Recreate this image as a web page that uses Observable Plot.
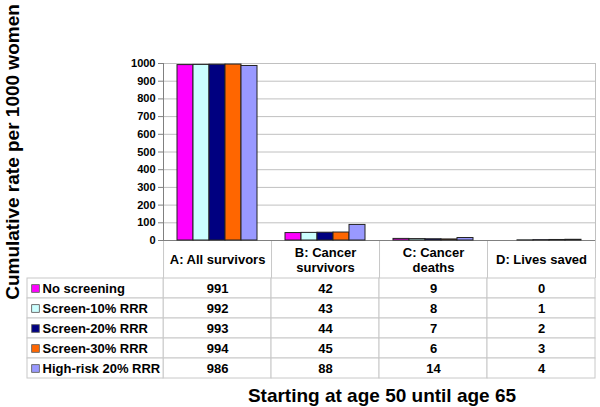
<!DOCTYPE html>
<html>
<head>
<meta charset="utf-8">
<script src="https://cdn.jsdelivr.net/npm/d3@7"></script>
<script src="https://cdn.jsdelivr.net/npm/@observablehq/plot@0.6"></script>
<style>
  html, body { margin: 0; padding: 0; background: #fff; }
  #chart { position: relative; width: 600px; height: 407px; background: #fff; font-family: "Liberation Sans", Arial, sans-serif; font-weight: bold; overflow: hidden; }
  #chart svg { position: absolute; left: 0; background: transparent; }
  .ytitle { position: absolute; left: -142px; top: 140px; width: 310px; height: 24px; line-height: 24px; font-size: 19px; text-align: center; transform: rotate(-90deg); transform-origin: 50% 50%; white-space: nowrap; }
  .xtitle { position: absolute; left: 82px; top: 385px; width: 600px; line-height: 22px; font-size: 19px; text-align: center; white-space: nowrap; }
</style>
</head>
<body>
<div id="chart"></div>
<script>
// ---- data ----
const categories = ["A: All survivors", "B: Cancer survivors", "C: Cancer deaths", "D: Lives saved"];
const headerLabels = ["A: All survivors", "B: Cancer\nsurvivors", "C: Cancer\ndeaths", "D: Lives saved"];
const series = ["No screening", "Screen-10% RRR", "Screen-20% RRR", "Screen-30% RRR", "High-risk 20% RRR"];
const seriesColors = ["#FF00FF", "#CCFFFF", "#000080", "#FF6600", "#9999FF"];
const allSurvivors = [991, 992, 993, 994, 986];
const cancerSurvivors = [42, 43, 44, 45, 88];
const cancerDeaths = [9, 8, 7, 6, 14];
const livesSaved = [0, 1, 2, 3, 4];
const yTicks = [0, 100, 200, 300, 400, 500, 600, 700, 800, 900, 1000];
const yTitle = "Cumulative rate per 1000 women";
const xTitle = "Starting at age 50 until age 65";

const valuesByCategory = [allSurvivors, cancerSurvivors, cancerDeaths, livesSaved];
const rows = [];
categories.forEach((c, ci) => series.forEach((s, si) => rows.push({category: c, series: s, value: valuesByCategory[ci][si], col: ci, row: si})));
const seriesRows = series.map((s, i) => ({series: s, row: i}));
const headerRows = categories.map((c, i) => ({category: c, label: headerLabels[i], col: i}));

const font = {fontFamily: "'Liberation Sans', Arial, sans-serif", fontWeight: "bold", background: "transparent", color: "black"};
const W = 600, ML = 163, MR = 5, MT = 63;
const gridColor = "#c0c0c0", axisColor = "#808080", tableColor = "#c8c8c8";

const chart = document.getElementById("chart");

// table (drawn first, underneath the axis layer)
const labelColStart = -1.26;
const table = Plot.plot({
  width: W, height: 141, marginLeft: 27, marginRight: MR, marginTop: 0, marginBottom: 3,
  style: {...font, fontSize: "13px"},
  x: {domain: [labelColStart, 4], axis: null},
  y: {domain: [-1.9, 5], reverse: true, axis: null},
  marks: [
    Plot.rect(rows, {x1: "col", x2: d => d.col + 1, y1: "row", y2: d => d.row + 1, fill: "white", stroke: tableColor}),
    Plot.rect(seriesRows, {x1: labelColStart, x2: 0, y1: "row", y2: d => d.row + 1, fill: "white", stroke: tableColor}),
    Plot.ruleX(d3.range(categories.length + 1), {y1: -1.9, y2: 0, stroke: tableColor}),
    Plot.text(headerRows, {x: d => d.col + 0.5, y: -0.95, text: "label", fontSize: 13, fontWeight: "bold", lineHeight: 1.15, fill: "black"}),
    Plot.text(rows, {x: d => d.col + 0.5, y: d => d.row + 0.5, text: d => String(d.value), fontSize: 13, fontWeight: "bold", fill: "black"}),
    Plot.dot(seriesRows, {x: labelColStart, y: d => d.row + 0.5, dx: 8, symbol: "square", r: 4.4, fill: d => seriesColors[d.row], stroke: "#707070", strokeWidth: 1}),
    Plot.text(seriesRows, {x: labelColStart, y: d => d.row + 0.5, dx: 15, text: "series", textAnchor: "start", fontSize: 13, fontWeight: "bold", fill: "black"})
  ]
});
table.style.top = "240px";
chart.appendChild(table);

// base: grid, frame, y axis
const base = Plot.plot({
  width: W, height: 252, marginLeft: ML, marginRight: MR, marginTop: MT, marginBottom: 12,
  style: {...font, fontSize: "11px"},
  x: {domain: [0, 1], axis: null},
  y: {domain: [0, 1000], axis: null},
  marks: [
    Plot.gridY(yTicks, {stroke: gridColor, strokeOpacity: 1}),
    Plot.frame({stroke: gridColor}),
    Plot.axisY(yTicks, {tickSize: 5, tickPadding: 3, stroke: axisColor, fill: "black", fontSize: 11, fontWeight: "bold", label: null, tickFormat: d => String(d)}),
    Plot.ruleX([0], {stroke: axisColor}),
    Plot.ruleY([0], {stroke: axisColor})
  ]
});
base.style.top = "0px";
chart.appendChild(base);

// bars
const bars = Plot.plot({
  width: W, height: 252, marginLeft: ML, marginRight: MR, marginTop: MT, marginBottom: 12,
  style: font,
  fx: {domain: categories, padding: 0, axis: null},
  x: {domain: series, paddingInner: 0, paddingOuter: 0.75, axis: null},
  y: {domain: [0, 1000], axis: null},
  color: {domain: series, range: seriesColors},
  marks: [
    Plot.barY(rows, {fx: "category", x: "series", y: "value", fill: "series", stroke: "#222", strokeWidth: 1})
  ]
});
bars.style.top = "0px";
chart.appendChild(bars);

const yt = document.createElement("div");
yt.className = "ytitle";
yt.textContent = yTitle;
chart.appendChild(yt);

const xt = document.createElement("div");
xt.className = "xtitle";
xt.textContent = xTitle;
chart.appendChild(xt);
</script>
</body>
</html>
